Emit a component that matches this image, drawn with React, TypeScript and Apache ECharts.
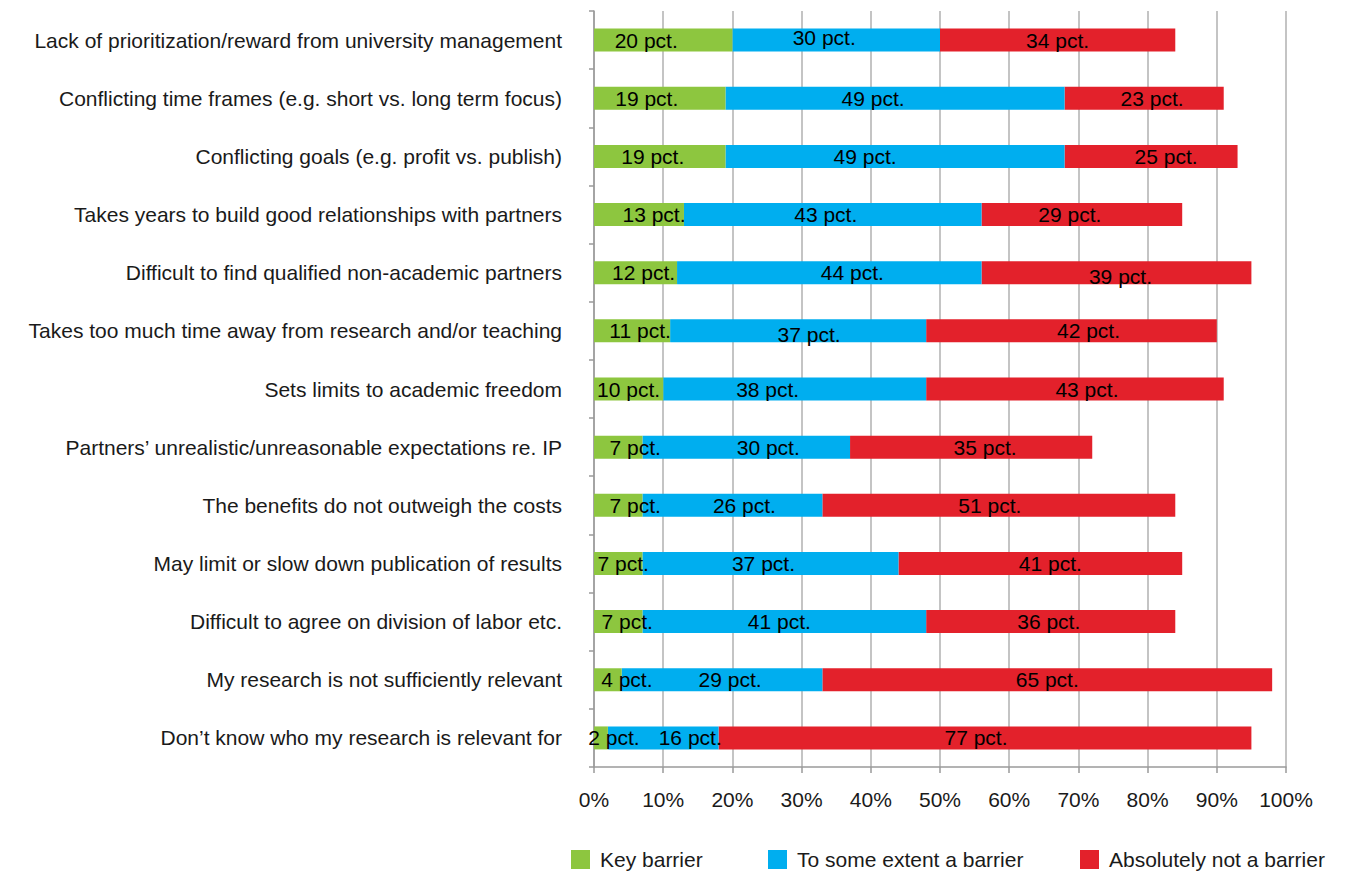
import React, { useEffect, useRef } from "react";
import * as echarts from "echarts";

// Barriers to collaboration with non-academic partners (share of respondents)
const categories: string[] = [
  "Lack of prioritization/reward from university management",
  "Conflicting time frames (e.g. short vs. long term focus)",
  "Conflicting goals (e.g. profit vs. publish)",
  "Takes years to build good relationships with partners",
  "Difficult to find qualified non-academic partners",
  "Takes too much time away from research and/or teaching",
  "Sets limits to academic freedom",
  "Partners’ unrealistic/unreasonable expectations re. IP",
  "The benefits do not outweigh the costs",
  "May limit or slow down publication of results",
  "Difficult to agree on division of labor etc.",
  "My research is not sufficiently relevant",
  "Don’t know who my research is relevant for",
];

const keyBarrier: number[] = [20, 19, 19, 13, 12, 11, 10, 7, 7, 7, 7, 4, 2];
const someExtent: number[] = [30, 49, 49, 43, 44, 37, 38, 30, 26, 37, 41, 29, 16];
const notBarrier: number[] = [34, 23, 25, 29, 39, 42, 43, 35, 51, 41, 36, 65, 77];

const seriesNames: string[] = [
  "Key barrier",
  "To some extent a barrier",
  "Absolutely not a barrier",
];
const seriesColors: string[] = ["#8DC63F", "#00AEEF", "#E3212B"];

// Hand-placed label nudges [dx, dy] in px, per series and row
const labelNudges: [number, number][][] = [
  [[-17, 0], [-13, 0], [-7, 0], [15, 0], [8, 0], [8, 0], [0, 0], [17, 0], [17, 0], [5, 0], [9, 0], [19, 0], [13, 0]],
  [[-12, -3], [-22, 0], [-30, 0], [-7, 0], [23, 0], [11, 4], [-27, 0], [22, 0], [12, 0], [-7, 0], [-5, 0], [8, 0], [27, 0]],
  [[0, 0], [8, 0], [15, 0], [-12, 0], [4, 4], [17, 0], [12, 0], [14, 0], [-9, 0], [10, 0], [-2, 0], [0, 0], [-9, 0]],
];

const FONT = "'Liberation Sans', Arial, Helvetica, sans-serif";

export default function App() {
  const ref = useRef<HTMLDivElement>(null);

  useEffect(() => {
    if (!ref.current) return;
    const chart = echarts.init(ref.current, null, { renderer: "svg" });

    const values = [keyBarrier, someExtent, notBarrier];
    const legendLefts = [571, 768, 1080];

    chart.setOption({
      animation: false,
      textStyle: { fontFamily: FONT },
      grid: { left: 594, right: 71, top: 11, bottom: 105, containLabel: false },
      legend: seriesNames.map((name, i) => ({
        data: [name],
        left: legendLefts[i],
        top: 849,
        itemWidth: 19,
        itemHeight: 19,
        padding: 0,
        icon: "rect",
        textStyle: {
          fontFamily: FONT,
          fontSize: 21,
          color: "#1a1a1a",
          padding: [0, 0, 0, 5],
        },
      })),
      xAxis: {
        type: "value",
        min: 0,
        max: 100,
        interval: 10,
        axisLine: { show: true, lineStyle: { color: "#9a9a9a", width: 1.5 } },
        axisTick: { show: true, length: 6, lineStyle: { color: "#9a9a9a", width: 1.5 } },
        splitLine: { show: true, lineStyle: { color: "#b0b0b0", width: 1.5 } },
        axisLabel: {
          formatter: "{value}%",
          fontFamily: FONT,
          fontSize: 21,
          color: "#1a1a1a",
          margin: 22,
        },
      },
      yAxis: {
        type: "category",
        inverse: true,
        data: categories,
        axisLine: { show: true, lineStyle: { color: "#9a9a9a", width: 1.5 } },
        axisTick: { show: true, length: 5, lineStyle: { color: "#9a9a9a", width: 1.5 } },
        axisLabel: {
          interval: 0,
          fontFamily: FONT,
          fontSize: 21,
          color: "#1a1a1a",
          margin: 32,
        },
      },
      series: seriesNames.map((name, i) => ({
        name,
        type: "bar",
        stack: "total",
        barWidth: 23,
        // earlier segments sit above later ones so their labels stay readable
        z: 5 - i,
        data: values[i].map((v, r) => ({
          value: v,
          label: { offset: labelNudges[i][r] },
        })),
        itemStyle: { color: seriesColors[i] },
        label: {
          show: true,
          position: "inside",
          formatter: "{c} pct.",
          fontFamily: FONT,
          fontSize: 21,
          color: "#000",
        },
      })),
    });

    return () => chart.dispose();
  }, []);

  return (
    <div
      ref={ref}
      style={{ position: "fixed", left: 0, top: 0, width: 1357, height: 872, background: "#fff" }}
    />
  );
}
